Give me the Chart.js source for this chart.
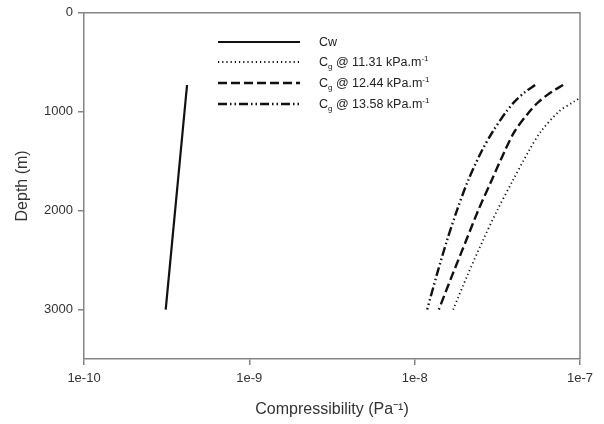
<!DOCTYPE html>
<html>
<head>
<meta charset="utf-8">
<script src="https://cdn.jsdelivr.net/npm/chart.js@4/dist/chart.umd.min.js"></script>
<style>
  html, body { margin: 0; padding: 0; background: #fff; }
  #wrap { position: relative; width: 604px; height: 424px; }
  #legend { position: absolute; left: 0; top: 0; font-family: "Liberation Sans", Arial, sans-serif; font-size: 12.5px; color: #222; }
  #legend div { position: absolute; left: 319px; white-space: nowrap; line-height: 14px; }
  #legend sub { font-size: 8px; vertical-align: -3px; line-height: 0; }
  #legend sup { font-size: 8px; vertical-align: 5px; line-height: 0; }
</style>
</head>
<body>
<div id="wrap">
  <canvas id="c" width="604" height="424"></canvas>
  <div id="legend">
    <div style="top:35px">Cw</div>
    <div style="top:55px">C<sub>g</sub> @ 11.31 kPa.m<sup>-1</sup></div>
    <div style="top:76px">C<sub>g</sub> @ 12.44 kPa.m<sup>-1</sup></div>
    <div style="top:97px">C<sub>g</sub> @ 13.58 kPa.m<sup>-1</sup></div>
  </div>
</div>
<script>
// ---- data ----
const cwDepth = [730, 3000];
const cwValues = [4.2e-10, 3.12e-10];

const gasDepth = [730, 800, 900, 1000, 1200, 1400, 1700, 2000, 2300, 2650, 3000];
const cg1131 = [1.40e-7, 1.156e-7, 9.15e-8, 7.44e-8, 5.80e-8, 4.89e-8, 3.91e-8, 3.15e-8, 2.59e-8, 2.09e-8, 1.71e-8];
const cg1244 = [7.91e-8, 6.72e-8, 5.62e-8, 4.94e-8, 4.02e-8, 3.50e-8, 2.91e-8, 2.42e-8, 2.05e-8, 1.69e-8, 1.40e-8];
const cg1358 = [5.35e-8, 4.66e-8, 4.01e-8, 3.58e-8, 2.97e-8, 2.54e-8, 2.10e-8, 1.80e-8, 1.57e-8, 1.36e-8, 1.19e-8];

const xTicks = [1e-10, 1e-9, 1e-8, 1e-7];
const xTickLabels = ['1e-10', '1e-9', '1e-8', '1e-7'];
const yTicks = [0, 1000, 2000, 3000];

const seriesNames = ['Cw', 'Cg @ 11.31 kPa.m-1', 'Cg @ 12.44 kPa.m-1', 'Cg @ 13.58 kPa.m-1'];

function pts(xs, ys) { return xs.map((v, i) => ({ x: v, y: ys[i] })); }

const axisColor = '#858585';
const textColor = '#333';

const boxAndLegend = {
  id: 'boxAndLegend',
  afterDatasetsDraw(chart) {
    const { ctx, chartArea: a } = chart;
    ctx.save();
    ctx.strokeStyle = axisColor;
    ctx.lineWidth = 1.5;
    ctx.beginPath();
    ctx.moveTo(a.left, a.top); ctx.lineTo(a.right, a.top); ctx.lineTo(a.right, a.bottom);
    ctx.stroke();
    // legend samples
    const rows = [42, 62, 83, 104];
    chart.data.datasets.forEach((ds, i) => {
      ctx.strokeStyle = ds.borderColor;
      ctx.lineWidth = ds.borderWidth;
      ctx.lineCap = ds.borderCapStyle || 'butt';
      ctx.setLineDash(ds.borderDash || []);
      ctx.beginPath();
      ctx.moveTo(218, rows[i]);
      ctx.lineTo(300, rows[i]);
      ctx.stroke();
    });
    ctx.restore();
  }
};

new Chart(document.getElementById('c'), {
  type: 'scatter',
  data: {
    datasets: [
      { label: seriesNames[0], data: pts(cwValues, cwDepth), showLine: true, borderColor: '#111', borderWidth: 2.2, pointRadius: 0, tension: 0 },
      { label: seriesNames[1], data: pts(cg1131, gasDepth), showLine: true, borderColor: '#111', borderWidth: 1.8, borderDash: [1.2, 3], pointRadius: 0, tension: 0.3 },
      { label: seriesNames[2], data: pts(cg1244, gasDepth), showLine: true, borderColor: '#111', borderWidth: 2.4, borderDash: [9, 4], pointRadius: 0, tension: 0.3 },
      { label: seriesNames[3], data: pts(cg1358, gasDepth), showLine: true, borderColor: '#111', borderWidth: 2.4, borderDash: [9, 3, 1.5, 3, 1.5, 3], pointRadius: 0, tension: 0.3 }
    ]
  },
  options: {
    responsive: false,
    animation: false,
    layout: { padding: { left: 0, right: 24, top: 12, bottom: 0 } },
    plugins: { legend: { display: false }, tooltip: { enabled: false } },
    scales: {
      x: {
        type: 'logarithmic',
        min: 1e-10, max: 1e-7,
        afterBuildTicks: s => { s.ticks = xTicks.map(v => ({ value: v })); },
        afterFit: s => { s.height = 65; },
        ticks: {
          callback: (v) => { const i = xTicks.findIndex(t => Math.abs(Math.log10(t) - Math.log10(v)) < 1e-6); return i >= 0 ? xTickLabels[i] : ''; },
          color: textColor, font: { family: 'Liberation Sans', size: 13 }, padding: 6, maxRotation: 0
        },
        grid: { display: true, drawOnChartArea: false, drawTicks: true, tickLength: 6, color: axisColor, lineWidth: 1.5 },
        border: { display: true, color: axisColor, width: 1.5 },
        title: { display: true, text: 'Compressibility (Pa⁻¹)', color: textColor, font: { family: 'Liberation Sans', size: 16 }, padding: { top: 0, bottom: 5 } }
      },
      y: {
        type: 'linear',
        reverse: true,
        min: 0, max: 3500,
        afterBuildTicks: s => { s.ticks = yTicks.map(v => ({ value: v })); },
        afterFit: s => { s.width = 84; },
        ticks: { callback: v => String(v), color: textColor, font: { family: 'Liberation Sans', size: 13 }, padding: 5 },
        grid: { display: true, drawOnChartArea: false, drawTicks: true, tickLength: 6, color: axisColor, lineWidth: 1.5 },
        border: { display: true, color: axisColor, width: 1.5 },
        title: { display: true, text: 'Depth (m)', color: textColor, font: { family: 'Liberation Sans', size: 16 }, padding: { top: 13, bottom: 0 } }
      }
    }
  },
  plugins: [boxAndLegend]
});
</script>
</body>
</html>
